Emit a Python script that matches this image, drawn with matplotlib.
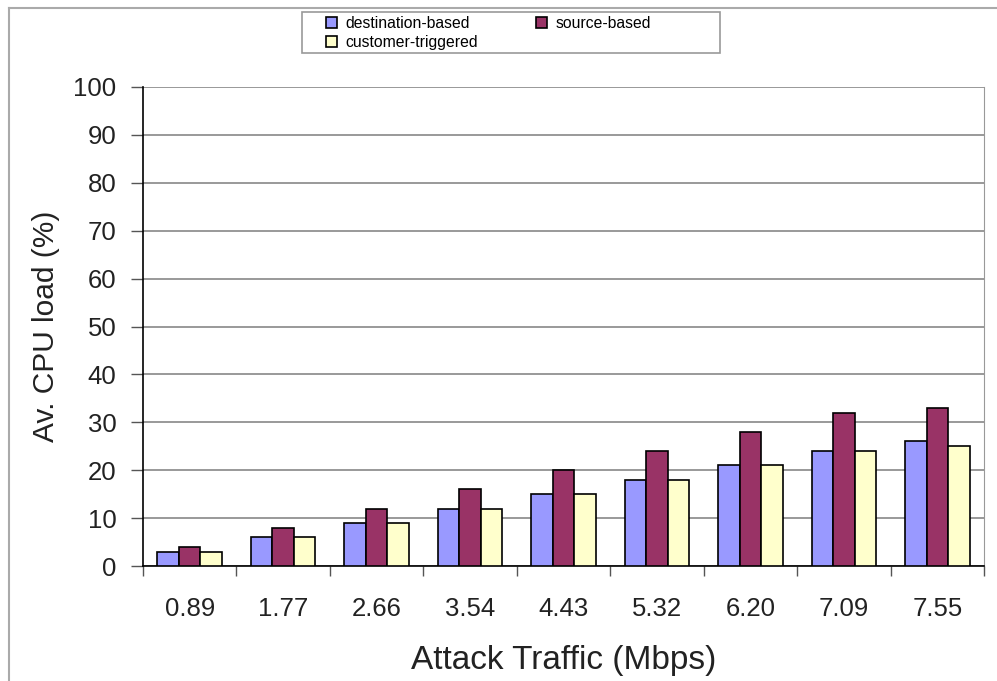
import matplotlib
matplotlib.use("Agg")
import matplotlib.pyplot as plt
import numpy as np
from matplotlib.lines import Line2D
from matplotlib.patches import Rectangle

plt.rcParams['font.family'] = ['Liberation Sans', 'DejaVu Sans']

categories = ["0.89", "1.77", "2.66", "3.54", "4.43", "5.32", "6.20", "7.09", "7.55"]
destination_based = [3, 6, 9, 12, 15, 18, 21, 24, 26]
source_based = [4, 8, 12, 16, 20, 24, 28, 32, 33]
customer_triggered = [3, 6, 9, 12, 15, 18, 21, 24, 25]
series_names = ["destination-based", "source-based", "customer-triggered"]
colors = ["#9999ff", "#993366", "#ffffcc"]

W, H = 997, 681
fig = plt.figure(figsize=(W / 100, H / 100), dpi=100)
ax = fig.add_axes([143 / W, 1 - 566 / H, (984 - 143) / W, (566 - 87) / H])

x = np.arange(len(categories))
bw = 0.23
handles = []
for i, (vals, name, c) in enumerate(zip([destination_based, source_based, customer_triggered], series_names, colors)):
    b = ax.bar(x + (i - 1) * bw, vals, bw, color=c, edgecolor="black", linewidth=1.2, label=name, zorder=3)
    handles.append(b)

ax.set_xlim(-0.5, len(categories) - 0.5)
ax.set_ylim(0, 100)
ax.set_yticks(np.arange(0, 101, 10))
ax.yaxis.grid(True, color="#888888", linewidth=1.2, zorder=0)
ax.set_axisbelow(True)

ax.set_xticks(x)
ax.set_xticklabels(categories, fontsize=18.5, color="#222222")
ax.tick_params(axis="x", length=0, pad=22)
ax.set_xticks(np.arange(-0.5, len(categories), 1), minor=True)
ax.tick_params(axis="x", which="minor", length=7, width=1, color="#555555", direction="out")
ax.tick_params(axis="y", length=9, width=1, color="#555555", labelsize=18.5, labelcolor="#222222", pad=10)

ax.spines["top"].set_visible(False)
ax.spines["right"].set_color("#999999")
ax.spines["left"].set_color("black")
ax.spines["left"].set_linewidth(1.2)
ax.spines["bottom"].set_color("black")
ax.spines["bottom"].set_linewidth(1.2)

ax.set_ylabel("Av. CPU load (%)", fontsize=21.5, color="#222222")
ax.yaxis.set_label_coords(-(143 - 46) / (984 - 143), 0.5)
ax.set_xlabel("Attack Traffic (Mbps)", fontsize=24, color="#222222")
ax.xaxis.set_label_coords(0.5, -(660 - 566) / (566 - 87))
ax.xaxis.label.set_va("center")
ax.yaxis.label.set_va("center")

# legend: frame drawn separately
order = [0, 2, 1]
leg = fig.legend(handles=[handles[k] for k in order], labels=[series_names[k] for k in order],
                 ncol=2, loc="upper left", bbox_to_anchor=(326 / W, 1 - 16 / H), fontsize=11.3,
                 frameon=False, handlelength=0.7, handleheight=0.7, columnspacing=3.7,
                 borderpad=0, labelspacing=0.25, handletextpad=0.55, borderaxespad=0)
fig.add_artist(Rectangle((302 / W, 1 - 53 / H), (720 - 302) / W, (53 - 12) / H, transform=fig.transFigure,
                         fill=False, edgecolor="#999999", linewidth=1.2))

# outer figure border (left and top)
fig.add_artist(Line2D([9 / W, 9 / W], [0, 1 - 8 / H], color="#aaaaaa", linewidth=1.5, transform=fig.transFigure))
fig.add_artist(Line2D([9 / W, 1], [1 - 8 / H, 1 - 8 / H], color="#aaaaaa", linewidth=1.5, transform=fig.transFigure))

fig.savefig("out.png", dpi=100)
